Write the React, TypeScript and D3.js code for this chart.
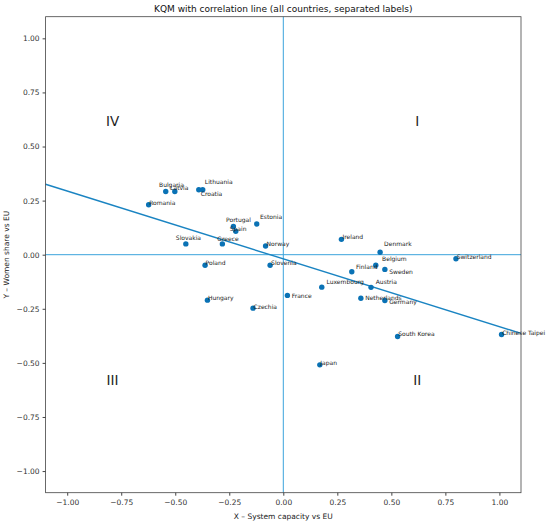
import { useEffect, useRef } from 'react'
import * as d3 from 'd3'

// country values
const countries = [
  'Bulgaria', 'Latvia', 'Lithuania', 'Croatia', 'Romania', 'Portugal', 'Spain', 'Estonia',
  'Slovakia', 'Greece', 'Norway', 'Poland', 'Slovenia', 'Hungary', 'Czechia', 'France',
  'Luxembourg', 'Ireland', 'Denmark', 'Belgium', 'Sweden', 'Finland', 'Austria',
  'Netherlands', 'Germany', 'Switzerland', 'South Korea', 'Chinese Taipei', 'Japan',
]
const systemCapacity = [
  -0.544, -0.502, -0.391, -0.373, -0.623, -0.231, -0.220, -0.123,
  -0.451, -0.282, -0.082, -0.362, -0.061, -0.351, -0.140, 0.019,
  0.178, 0.269, 0.448, 0.428, 0.470, 0.317, 0.406,
  0.359, 0.470, 0.799, 0.529, 1.010, 0.169,
]
const womenShare = [
  0.292, 0.292, 0.300, 0.300, 0.231, 0.130, 0.108, 0.142,
  0.050, 0.050, 0.040, -0.049, -0.049, -0.210, -0.247, -0.188,
  -0.150, 0.071, 0.011, -0.049, -0.068, -0.079, -0.151,
  -0.201, -0.212, -0.019, -0.378, -0.369, -0.509,
]
const ticks = [-1, -0.75, -0.5, -0.25, 0, 0.25, 0.5, 0.75, 1]
const quadrants = [
  { label: 'I', x: 0.62, y: 0.62 },
  { label: 'II', x: 0.62, y: -0.58 },
  { label: 'III', x: -0.79, y: -0.58 },
  { label: 'IV', x: -0.79, y: 0.62 },
]

// label nudges in px (separated labels)
const labelOffset: Record<string, [number, number]> = {
  Bulgaria: [-6.7, -5], Latvia: [-4.7, -1.6], Lithuania: [6, -5.3], Croatia: [-2, 6],
  Romania: [0.5, 0], Portugal: [-7.3, -4.7], Spain: [-6, -0.7], Estonia: [3.3, -5],
  Slovakia: [-10, -4], Greece: [-5, -3.3], Norway: [1, 0], Poland: [0.5, 0],
  Slovenia: [1, -0.5], Hungary: [0.5, -0.5], Czechia: [0.5, 0.5], France: [4.3, 2.3],
  Luxembourg: [4.7, -3.3], Ireland: [1, 0], Denmark: [4, -6.7], Belgium: [6.3, -4.7],
  Sweden: [4.3, 4.7], Finland: [4.3, -2.3], Austria: [4.7, -3.3], Netherlands: [4.3, 1.7],
  Germany: [4.3, 3], Switzerland: [0.7, 0], 'South Korea': [0.6, 0],
  'Chinese Taipei': [0.6, 0], Japan: [0.5, 0],
}

export default function App() {
  const svgRef = useRef<SVGSVGElement>(null)

  useEffect(() => {
    if (!svgRef.current) return
    const svg = d3.select(svgRef.current)
    svg.selectAll('*').remove()

    const W = 550, H = 521
    const margin = { top: 16.7, right: 29, bottom: 28.3, left: 45.6 }
    const width = W - margin.left - margin.right
    const height = H - margin.top - margin.bottom
    const font = 'DejaVu Sans, sans-serif'

    const x = d3.scaleLinear().domain([-1.1, 1.1]).range([0, width])
    const y = d3.scaleLinear().domain([-1.1, 1.1]).range([height, 0])

    const g = svg.append('g').attr('transform', `translate(${margin.left},${margin.top})`)

    // least squares fit
    const mx = d3.mean(systemCapacity)!
    const my = d3.mean(womenShare)!
    let sxy = 0, sxx = 0
    systemCapacity.forEach((v, i) => {
      sxy += (v - mx) * (womenShare[i] - my)
      sxx += (v - mx) * (v - mx)
    })
    const slope = sxy / sxx
    const intercept = my - slope * mx

    // zero lines
    g.append('line')
      .attr('x1', 0).attr('x2', width).attr('y1', y(0)).attr('y2', y(0))
      .attr('stroke', '#3ba3dc').attr('stroke-width', 1)
    g.append('line')
      .attr('x1', x(0)).attr('x2', x(0)).attr('y1', 0).attr('y2', height)
      .attr('stroke', '#3ba3dc').attr('stroke-width', 1)

    // correlation line
    const line = d3.line<number>().x(d => x(d)).y(d => y(intercept + slope * d))
    g.append('path')
      .datum([-1.1, 1.1])
      .attr('fill', 'none')
      .attr('stroke', '#1a84c2')
      .attr('stroke-width', 1.4)
      .attr('d', line)

    // quadrant labels
    g.selectAll('.quad')
      .data(quadrants)
      .join('text')
      .attr('x', d => x(d.x))
      .attr('y', d => y(d.y))
      .attr('text-anchor', 'middle')
      .attr('dominant-baseline', 'central')
      .attr('font-family', font)
      .attr('font-size', 13.5)
      .attr('fill', '#222')
      .text(d => d.label)

    // points
    g.selectAll('.dot')
      .data(countries)
      .join('circle')
      .attr('cx', (d, i) => x(systemCapacity[i]))
      .attr('cy', (d, i) => y(womenShare[i]))
      .attr('r', 2.7)
      .attr('fill', '#0a72b5')

    g.selectAll('.lbl')
      .data(countries)
      .join('text')
      .attr('x', (d, i) => x(systemCapacity[i]) + (labelOffset[d]?.[0] ?? 1))
      .attr('y', (d, i) => y(womenShare[i]) + (labelOffset[d]?.[1] ?? 0))
      .attr('font-family', font)
      .attr('font-size', 6)
      .attr('fill', '#222')
      .text(d => d)

    // axes
    const xAxis = g.append('g')
      .attr('transform', `translate(0,${height})`)
      .call(d3.axisBottom(x).tickValues(ticks).tickSize(3).tickFormat(d => d3.format('.2f')(d as number).replace('-', '−')))
    const yAxis = g.append('g')
      .call(d3.axisLeft(y).tickValues(ticks).tickSize(3).tickFormat(d => d3.format('.2f')(d as number).replace('-', '−')))
    for (const a of [xAxis, yAxis]) {
      a.select('.domain').remove()
      a.selectAll('line').attr('stroke', '#444')
      a.selectAll('text').attr('font-family', font).attr('font-size', 7.5).attr('fill', '#333')
    }
    xAxis.selectAll('text').attr('dy', '0.9em')

    // frame
    g.append('rect')
      .attr('width', width).attr('height', height)
      .attr('fill', 'none').attr('stroke', '#444').attr('stroke-width', 0.8)

    // titles
    svg.append('text')
      .attr('x', margin.left + width / 2).attr('y', 12)
      .attr('text-anchor', 'middle')
      .attr('font-family', font).attr('font-size', 9).attr('fill', '#111')
      .text('KQM with correlation line (all countries, separated labels)')
    svg.append('text')
      .attr('x', margin.left + width / 2).attr('y', 519)
      .attr('text-anchor', 'middle')
      .attr('font-family', font).attr('font-size', 7.5).attr('fill', '#222')
      .text('X – System capacity vs EU')
    svg.append('text')
      .attr('transform', `translate(9,${margin.top + height / 2}) rotate(-90)`)
      .attr('text-anchor', 'middle')
      .attr('font-family', font).attr('font-size', 7.5).attr('fill', '#222')
      .text('Y – Women share vs EU')
  }, [])

  return (
    <svg
      ref={svgRef}
      width={550}
      height={521}
      style={{ position: 'absolute', left: 0, top: 0, background: '#fff' }}
    />
  )
}
